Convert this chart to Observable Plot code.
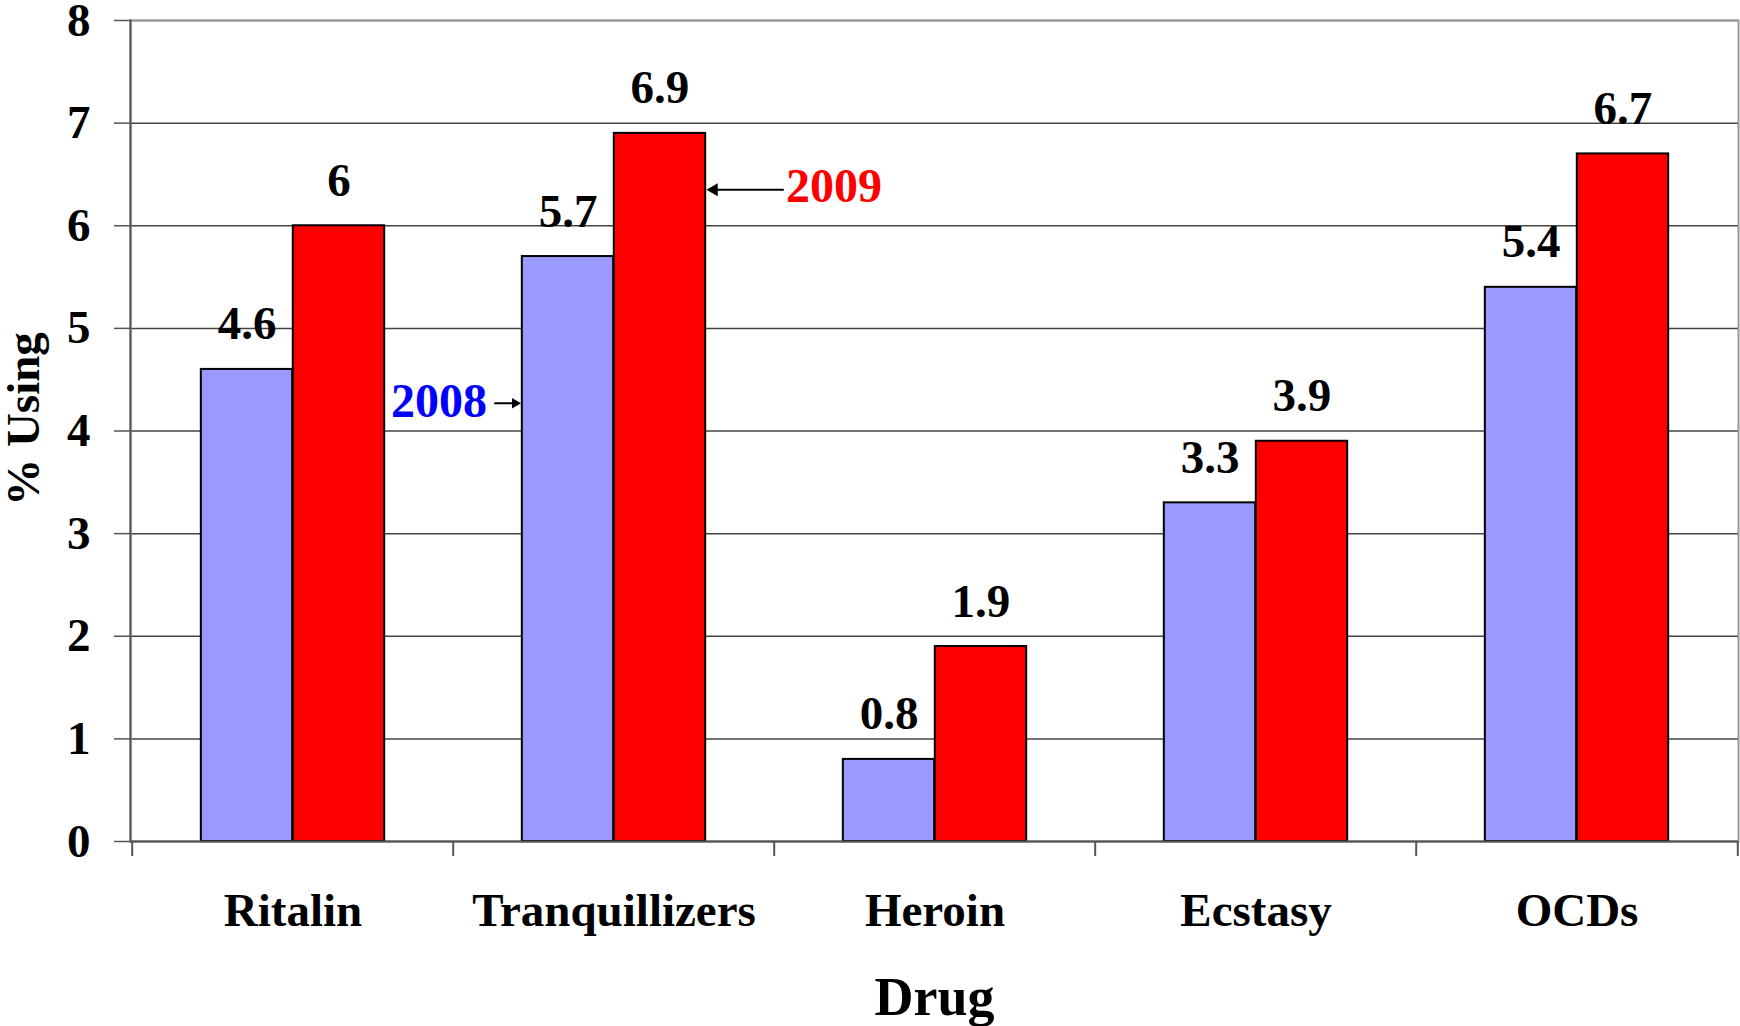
<!DOCTYPE html>
<html>
<head>
<meta charset="utf-8">
<script src="https://cdn.jsdelivr.net/npm/d3@7"></script>
<script src="https://cdn.jsdelivr.net/npm/@observablehq/plot@0.6"></script>
<style>
  html, body { margin: 0; padding: 0; background: #fff; }
  #chart { width: 1740px; height: 1026px; }
</style>
</head>
<body>
<div id="chart"></div>
<script>
// ---- data ----
const drugs = ["Ritalin", "Tranquillizers", "Heroin", "Ecstasy", "OCDs"];
const use2008 = [4.6, 5.7, 0.8, 3.3, 5.4];
const use2009 = [6, 6.9, 1.9, 3.9, 6.7];
const yTicks = [0, 1, 2, 3, 4, 5, 6, 7, 8];
const seriesNames = ["2008", "2009"];
const yLabel = "% Using";
const xLabel = "Drug";

// ---- layout ----
const W = 1740, H = 1026;
const mL = 130, mR = 2, mT = 20, mB = 185;
const bw = (W - mL - mR) / drugs.length;
const outer = 0.214 * bw, half = 0.5 * bw;
const barOff = 0.143 * bw;

const rows08 = drugs.map((d, i) => ({drug: d, v: use2008[i]}));
const rows09 = drugs.map((d, i) => ({drug: d, v: use2009[i]}));

const font = "'Liberation Serif', 'Times New Roman', serif";
const axisColor = "#555";
const fs = 47;

const chart = Plot.plot({
  width: W,
  height: H,
  marginLeft: mL,
  marginRight: mR,
  marginTop: mT,
  marginBottom: mB,
  style: {fontFamily: font, fontSize: fs + "px", fontWeight: "bold", background: "#fff", color: "#000", overflow: "visible"},
  x: {type: "band", domain: drugs, padding: 0},
  y: {domain: [0, 8]},
  marks: [
    Plot.gridY(yTicks, {stroke: "#444", strokeOpacity: 1, strokeWidth: 1.5}),
    Plot.frame({stroke: "#999", strokeWidth: 2}),
    Plot.frame({anchor: "left", stroke: axisColor, strokeWidth: 2}),
    Plot.barY(rows08, {x: "drug", y: "v", fill: "#9999FF", stroke: "#000", strokeWidth: 2,
      insetLeft: outer, insetRight: half}),
    Plot.barY(rows09, {x: "drug", y: "v", fill: "#FF0000", stroke: "#000", strokeWidth: 2,
      insetLeft: half, insetRight: outer}),
    Plot.ruleY([0], {stroke: axisColor, strokeWidth: 2}),
    // y axis
    Plot.axisY(yTicks, {tickSize: 16, tickPadding: 24, tickFormat: d => String(d), stroke: axisColor, strokeWidth: 1.5,
      fontSize: fs, fontWeight: "bold", fill: "#000", label: null}),
    // x axis labels
    Plot.axisX({tickSize: 0, tickPadding: 51, fontSize: fs, fontWeight: "bold", fill: "#000", label: null}),
    // x axis boundary ticks
    Plot.axisX({tickSize: 15, tickFormat: () => "", dx: -bw / 2, stroke: axisColor, strokeWidth: 2, label: null}),
    Plot.axisX([drugs[drugs.length - 1]], {tickSize: 15, tickFormat: () => "", dx: bw / 2, stroke: axisColor, strokeWidth: 2, label: null}),
    // value labels
    Plot.text(rows08, {x: "drug", y: "v", text: d => String(d.v), dx: -barOff, dy: -30,
      lineAnchor: "bottom", fontSize: fs, fontWeight: "bold", fill: "#000"}),
    Plot.text(rows09, {x: "drug", y: "v", text: d => String(d.v), dx: barOff, dy: -30,
      lineAnchor: "bottom", fontSize: fs, fontWeight: "bold", fill: "#000"}),
    // series annotations
    Plot.text([seriesNames[1]], {x: () => drugs[1], y: () => 6.35, dx: 172, dy: -3, textAnchor: "start",
      fontSize: 48, fontWeight: "bold", fill: "#FF0000"}),
    Plot.arrow([0], {x1: () => drugs[2], x2: () => drugs[1], y1: () => 6.35, y2: () => 6.35,
      insetStart: 152, insetEnd: 96, headLength: 0, stroke: "#000", strokeWidth: 2}),
    Plot.dot([0], {x: () => drugs[1], y: () => 6.35, dx: 100, symbol: "triangle2", rotate: -90, r: 6.2, fill: "#000"}),
    Plot.text([seriesNames[0]], {x: () => drugs[1], y: () => 4.27, dx: -127, dy: -2, textAnchor: "end",
      fontSize: 48, fontWeight: "bold", fill: "#0000FF"}),
    Plot.arrow([0], {x1: () => drugs[0], x2: () => drugs[1], y1: () => 4.27, y2: () => 4.27,
      insetStart: 202, insetEnd: 100, headLength: 0, stroke: "#000", strokeWidth: 2}),
    Plot.dot([0], {x: () => drugs[1], y: () => 4.27, dx: -99, symbol: "triangle2", rotate: 90, r: 5, fill: "#000"}),
    // axis titles
    Plot.text([yLabel], {frameAnchor: "left", textAnchor: "middle", lineAnchor: "middle", rotate: -90,
      dx: -107, dy: -12, fontSize: fs, fontWeight: "bold", fill: "#000"}),
    Plot.text([xLabel], {frameAnchor: "bottom", textAnchor: "middle", lineAnchor: "bottom", dy: 173,
      fontSize: 54, fontWeight: "bold", fill: "#000"})
  ]
});
document.getElementById("chart").appendChild(chart);
</script>
</body>
</html>
